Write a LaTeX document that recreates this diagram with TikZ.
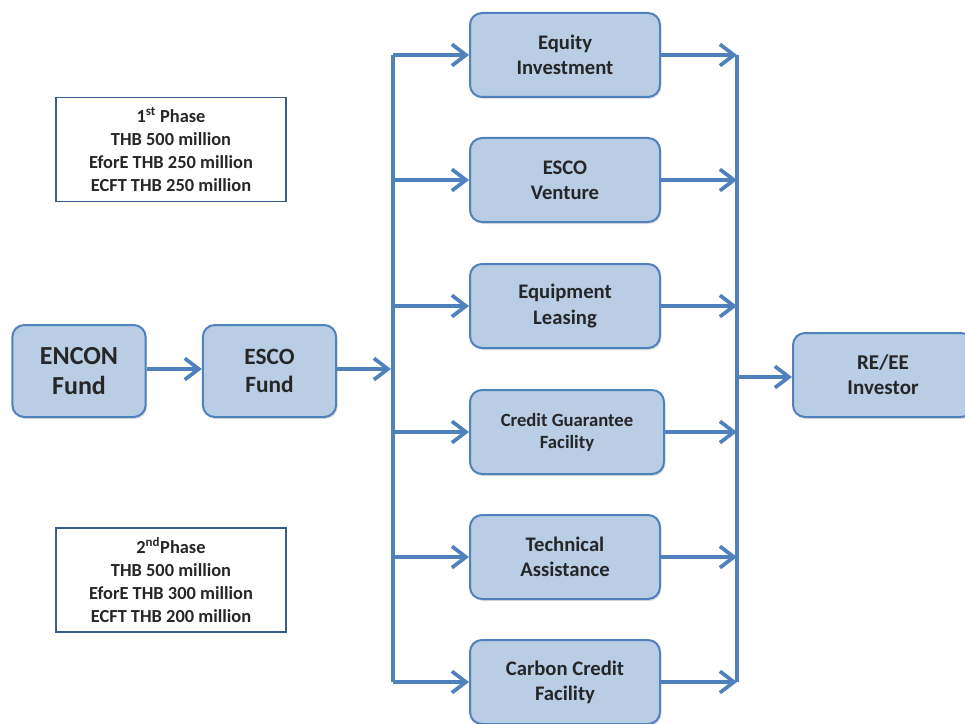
\documentclass[tikz,border=0pt]{standalone}
\usepackage{fontspec}
\setmainfont{Carlito}
\usepackage{tikz}
\usetikzlibrary{arrows.meta,shadows}

\definecolor{boxfill}{HTML}{B9CDE5}
\definecolor{boxline}{HTML}{4F81BD}
\definecolor{phaseline}{HTML}{385D8A}
\definecolor{txt}{HTML}{262626}

\begin{document}
\begin{tikzpicture}[x=0.75pt,y=-0.75pt]
        \tikzstyle{every node}+=[text=txt,font=\bfseries]
        \tikzstyle{fundbox}=[draw=boxline,fill=boxfill,line width=1.5pt,rounded corners=9pt,
          align=center,drop shadow={opacity=0.25,shadow xshift=1pt,shadow yshift=-1.5pt}]
        \tikzstyle{phasebox}=[draw=phaseline,line width=1.1pt,align=center,
          minimum width=172.5pt,minimum height=78pt,font=\bfseries\fontsize{13.8}{17.2}\selectfont]
        \tikzstyle{flow}=[draw=boxline,line width=3pt,-{Straight Barb[length=10.5pt,width=16pt,line width=2.8pt]}]
        \tikzstyle{bus}=[draw=boxline,line width=3pt]
        \useasboundingbox (0,0) rectangle (965,724);
        % funding phases
        \node[phasebox] (phaseA) at (171,149.5) {1\textsuperscript{st} Phase\\THB 500 million\\EforE THB 250 million\\ECFT THB 250 million};
        \node[phasebox] (phaseB) at (171,580) {2\textsuperscript{nd}Phase\\THB 500 million\\EforE THB 300 million\\ECFT THB 200 million};
        % funds
        \node[fundbox,minimum width=100pt,minimum height=69pt,font=\bfseries\fontsize{19.5}{22}\selectfont] (encon) at (79,371) {ENCON\\Fund};
        \node[fundbox,minimum width=100pt,minimum height=69pt,font=\bfseries\fontsize{17.5}{20.5}\selectfont] (esco) at (269.5,371) {ESCO\\Fund};
        % instruments
        \node[fundbox,minimum width=142.5pt,minimum height=63pt,font=\bfseries\fontsize{15.5}{18.8}\selectfont] (equity) at (565,55) {Equity\\Investment};
        \node[fundbox,minimum width=142.5pt,minimum height=63pt,font=\bfseries\fontsize{15.5}{18.8}\selectfont] (venture) at (565,180) {ESCO\\Venture};
        \node[fundbox,minimum width=142.5pt,minimum height=63pt,font=\bfseries\fontsize{15.5}{18.8}\selectfont] (leasing) at (565,306) {Equipment\\Leasing};
        \node[fundbox,minimum width=145.5pt,minimum height=63pt,font=\bfseries\fontsize{14}{16.5}\selectfont] (guarantee) at (567,432) {Credit Guarantee\\Facility};
        \node[fundbox,minimum width=142.5pt,minimum height=63pt,font=\bfseries\fontsize{15.5}{18.8}\selectfont] (technical) at (565,557) {Technical\\Assistance};
        \node[fundbox,minimum width=142.5pt,minimum height=63pt,font=\bfseries\fontsize{15.5}{18.8}\selectfont] (carbon) at (565,682) {Carbon Credit\\Facility};
        \node[fundbox,minimum width=135pt,minimum height=63pt,font=\bfseries\fontsize{15.8}{18.8}\selectfont] (investor) at (883,375) {RE/EE\\Investor};
        % buses
        \coordinate (lt) at (393,55);
        \coordinate (lb) at (393,682);
        \coordinate (rt) at (737,55);
        \coordinate (rb) at (737,682);
        \draw[bus] (lt) -- (lb);
        \draw[bus] (rt) -- (rb);
        % arrows
        \draw[flow] (encon.east |- 0,369) -- (esco.west |- 0,369);
        \draw[flow] (esco.east |- 0,369) -- (391,369);
        \foreach \n in {equity,venture,leasing,guarantee,technical,carbon}
        {
          \draw[flow] (lt |- \n.west) -- (\n.west);
          \draw[flow] (\n.east) -- (rt |- \n.east);
        }
        \draw[flow] (rt |- 0,377) -- (investor.west |- 0,377);
      \end{tikzpicture}
\end{document}
